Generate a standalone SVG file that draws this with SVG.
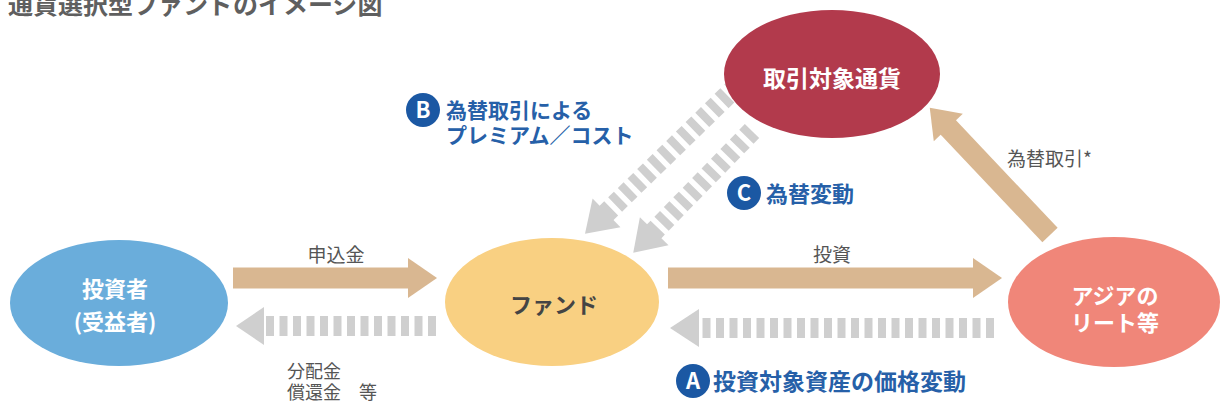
<svg xmlns="http://www.w3.org/2000/svg" width="1222" height="411" viewBox="0 0 1222 411">
<defs>
<style>
.t{font-family:"Noto Sans CJK JP","Noto Sans",sans-serif}
.node{font-size:22px;font-weight:bold;fill:#ffffff;text-anchor:middle}
.lbl{font-size:19px;fill:#555555}
.blue{font-size:21px;font-weight:bold;fill:#2660a8}
.circ{fill:#1b58a3}
.ct{font-size:22px;font-weight:bold;fill:#ffffff;text-anchor:middle}
.tan{fill:#d9b791}
.tanl{stroke:#d9b791;stroke-width:21;fill:none}
.gray{fill:#cfcfcf}
.dash{stroke:#cfcfcf;stroke-width:20;stroke-dasharray:8 5.5;fill:none}
</style>
</defs>
<rect width="1222" height="411" fill="#ffffff"/>
<text class="t" x="8" y="14" style="font-size:25px;font-weight:bold;fill:#5f5f5f">通貨選択型ファンドのイメージ図</text>

<g id="connectors">
  <g id="c-apply">
    <line class="tanl" x1="233" y1="278" x2="410" y2="278"/>
    <polygon class="tan" points="408,258 437,278 408,298"/>
  </g>
  <g id="c-dist">
    <line class="dash" x1="436" y1="326" x2="265" y2="326"/>
    <polygon class="gray" points="264,307 236,326 264,345"/>
  </g>
  <g id="c-invest">
    <line class="tanl" x1="668" y1="278" x2="975" y2="278"/>
    <polygon class="tan" points="973,258 1002,278 973,298"/>
  </g>
  <g id="c-pricechange">
    <line class="dash" x1="994" y1="328" x2="699" y2="328"/>
    <polygon class="gray" points="699,309 670,328 699,347"/>
  </g>
  <g id="c-fx" transform="translate(1050,235) rotate(-133.4)">
    <line class="tanl" x1="0" y1="0" x2="150" y2="0"/>
    <polygon class="tan" points="148,-20 175,0 148,20"/>
  </g>
  <g id="c-premium" transform="translate(737,86) rotate(135.8)">
    <line class="dash" x1="0" y1="0" x2="183" y2="0"/>
    <polygon class="gray" points="182,-20 212,0 182,20"/>
  </g>
  <g id="c-fxchange" transform="translate(752,131) rotate(134.3)">
    <line class="dash" x1="0" y1="0" x2="141" y2="0"/>
    <polygon class="gray" points="140,-20 170,0 140,20"/>
  </g>
</g>

<g id="node-investor">
  <ellipse cx="119" cy="303" rx="109" ry="63" fill="#6aaddb"/>
  <text class="t node" x="115" y="297">投資者</text>
  <text class="t node" x="115" y="330">(受益者)</text>
</g>
<g id="node-fund">
  <ellipse cx="552" cy="302" rx="107" ry="64" fill="#f9d082"/>
  <text class="t node" x="554" y="313" style="fill:#444444">ファンド</text>
</g>
<g id="node-reit">
  <ellipse cx="1114" cy="302" rx="106" ry="65" fill="#f08679"/>
  <text class="t node" x="1115" y="304">アジアの</text>
  <text class="t node" x="1115" y="331">リート等</text>
</g>
<g id="node-currency">
  <ellipse cx="832" cy="74" rx="108" ry="64" fill="#b23a4c"/>
  <text class="t node" x="832" y="87" style="font-size:23px">取引対象通貨</text>
</g>

<g id="labels">
  <text class="t lbl" x="336" y="262" text-anchor="middle">申込金</text>
  <text class="t lbl" x="287" y="378" style="font-size:18px">分配金</text>
  <text class="t lbl" x="287" y="399" style="font-size:18px">償還金　等</text>
  <text class="t lbl" x="832" y="262" text-anchor="middle">投資</text>
  <text class="t lbl" x="1007" y="166">為替取引*</text>

  <circle class="circ" cx="423" cy="110" r="17"/>
  <text class="t ct" x="423" y="118">B</text>
  <text class="t blue" x="446" y="118">為替取引による</text>
  <text class="t blue" x="446" y="143">プレミアム／コスト</text>

  <circle class="circ" cx="744" cy="193" r="17"/>
  <text class="t ct" x="744" y="201">C</text>
  <text class="t blue" x="766" y="202" style="font-size:22px">為替変動</text>

  <circle class="circ" cx="693" cy="381" r="17"/>
  <text class="t ct" x="693" y="389">A</text>
  <text class="t blue" x="713" y="390" style="font-size:23px">投資対象資産の価格変動</text>
</g>
</svg>
